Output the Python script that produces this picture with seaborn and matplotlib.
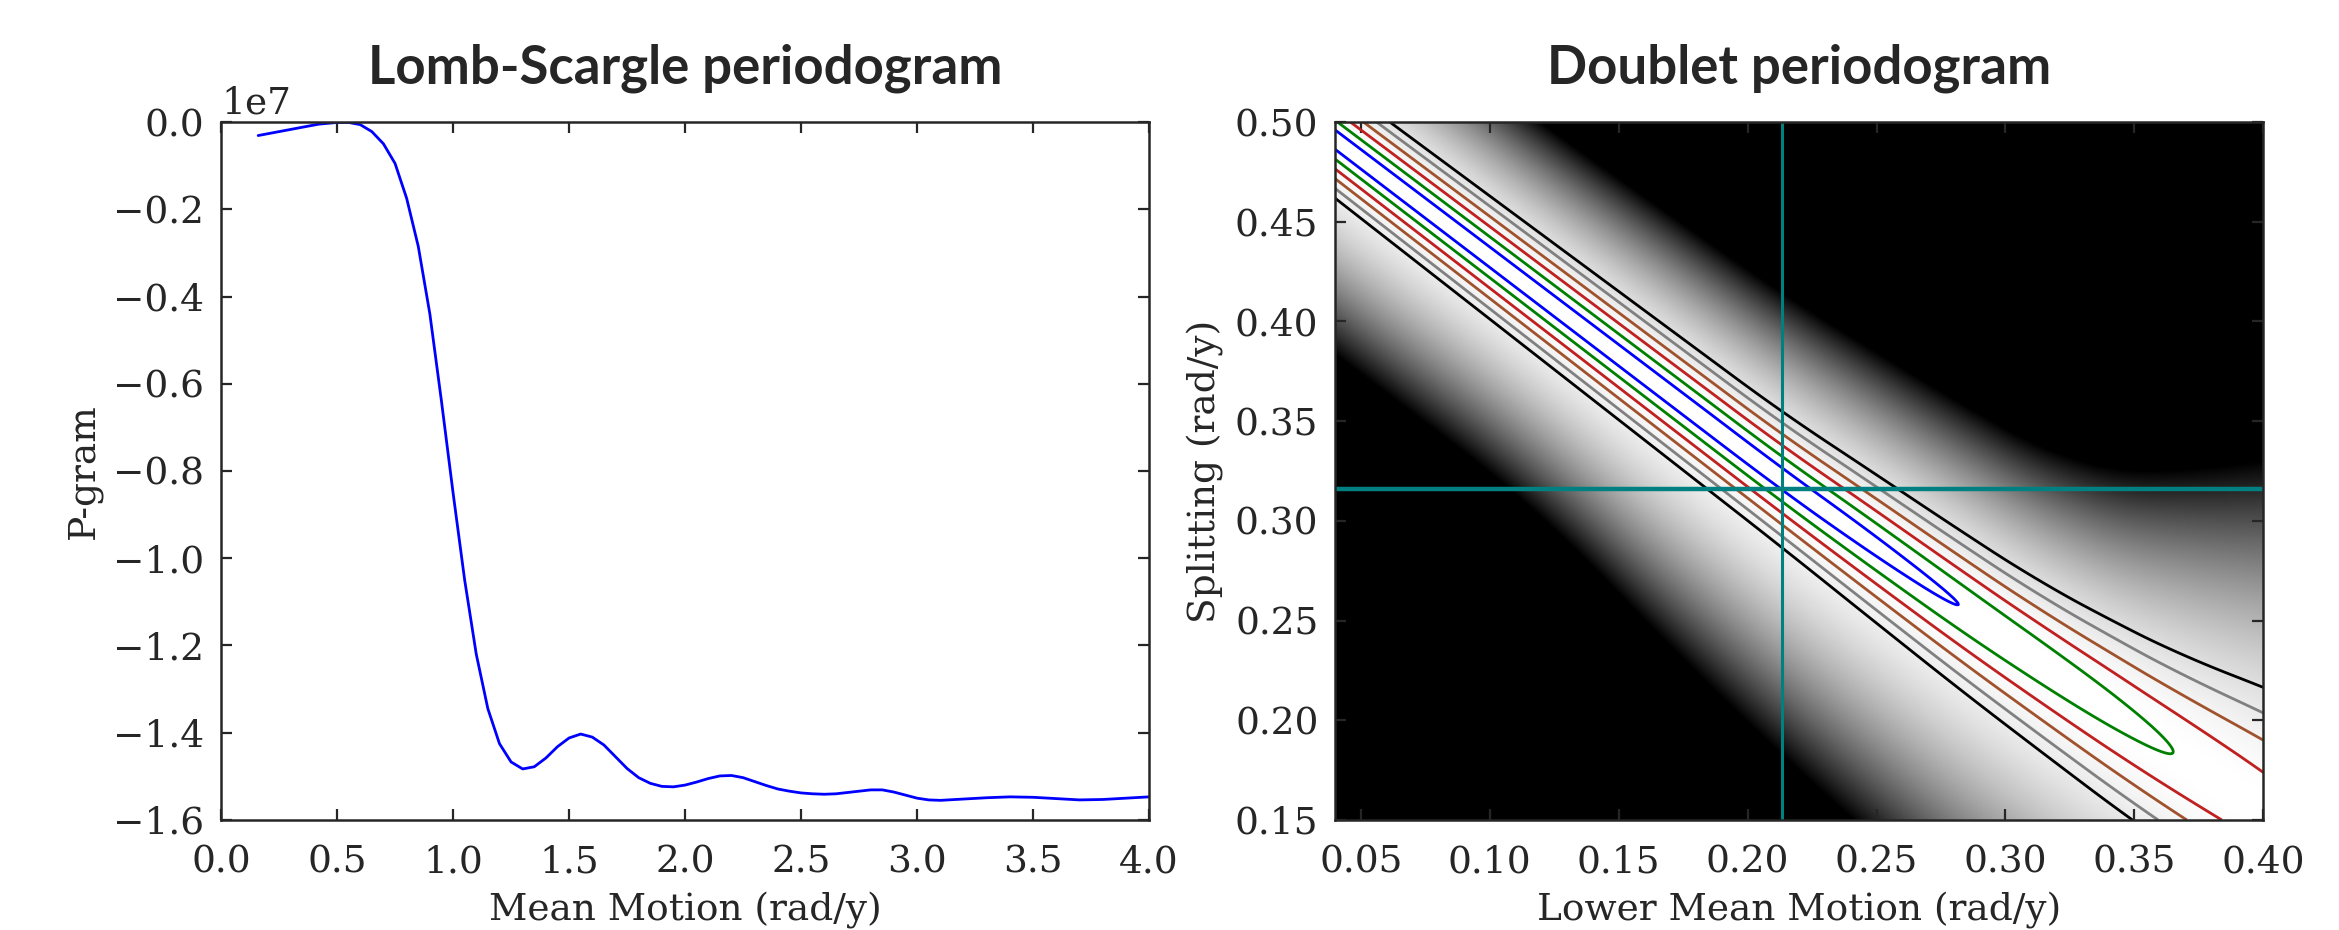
import numpy as np
import pandas as pd
import matplotlib
matplotlib.use("Agg")
import matplotlib.pyplot as plt
from matplotlib.ticker import MultipleLocator
import seaborn as sns

# Lomb-Scargle periodogram (power in units of 1e7)
mean_motion = [0.16, 0.25, 0.34, 0.42, 0.50, 0.55, 0.60, 0.65, 0.70, 0.75,
               0.80, 0.85, 0.90, 0.95, 1.00, 1.05, 1.10, 1.15, 1.20, 1.25,
               1.30, 1.35, 1.40, 1.45, 1.50, 1.55, 1.60, 1.65, 1.70, 1.75,
               1.80, 1.85, 1.90, 1.95, 2.00, 2.05, 2.10, 2.15, 2.20, 2.25,
               2.30, 2.35, 2.40, 2.45, 2.50, 2.55, 2.60, 2.65, 2.70, 2.75,
               2.80, 2.85, 2.90, 2.95, 3.00, 3.05, 3.10, 3.20, 3.30, 3.40,
               3.50, 3.60, 3.70, 3.80, 3.90, 4.00]
pgram_e7 = [-0.031, -0.022, -0.013, -0.005, -0.001, -0.001, -0.006, -0.022, -0.050, -0.095,
            -0.175, -0.285, -0.440, -0.640, -0.850, -1.050, -1.220, -1.345, -1.425, -1.467,
            -1.483, -1.478, -1.458, -1.432, -1.412, -1.403, -1.410, -1.428, -1.455, -1.482,
            -1.503, -1.516, -1.523, -1.524, -1.520, -1.513, -1.505, -1.499, -1.498, -1.503,
            -1.512, -1.521, -1.529, -1.534, -1.538, -1.540, -1.541, -1.540, -1.537, -1.534,
            -1.531, -1.531, -1.536, -1.543, -1.550, -1.554, -1.555, -1.552, -1.549, -1.547,
            -1.548, -1.551, -1.554, -1.553, -1.550, -1.547]

# Doublet periodogram
ridge_x = [0.04, 0.2132, 0.284, 0.366, 0.40]          # ridge of max power
ridge_y = [0.4912, 0.321, 0.256, 0.1834, 0.1533]
drop_x = [0.04, 0.20, 0.24, 0.284, 0.325, 0.366, 0.40]  # chi2 drop along the ridge
drop_chi2 = [0.0, 0.0, 0.2, 1.0, 2.2, 4.0, 5.8]
sig_up_x = [0.04, 0.2132, 0.3122, 0.3406, 0.3691, 0.40]  # 1-sigma half widths
sig_up = [0.00485, 0.0056, 0.0067, 0.0077, 0.0091, 0.0115]
sig_lo_x = [0.04, 0.2132, 0.35, 0.40]
sig_lo = [0.0049, 0.0057, 0.0085, 0.0088]
dark_up_x = [0.04, 0.12, 0.21, 0.27, 0.328, 0.36, 0.40]  # where the image goes black
dark_up = [0.086, 0.087, 0.093, 0.100, 0.109, 0.135, 0.177]
dark_lo_x = [0.04, 0.116, 0.178, 0.24, 0.30, 0.40]
dark_lo = [0.108, 0.108, 0.130, 0.146, 0.160, 0.170]
sigma_levels = [1, 2, 3, 4, 5, 6]
level_colors = ["blue", "green", "#c02020", "sienna", "gray", "black"]
true_lower = 0.2132
true_split = 0.3158

sns.set_style("ticks")
plt.rcParams['font.family'] = ['DejaVu Serif']
plt.rcParams['xtick.direction'] = 'in'
plt.rcParams['ytick.direction'] = 'in'
plt.rcParams['xtick.top'] = True
plt.rcParams['ytick.right'] = True
plt.rcParams['xtick.major.size'] = 4
plt.rcParams['ytick.major.size'] = 4
plt.rcParams['xtick.major.pad'] = 9
plt.rcParams['ytick.major.pad'] = 6
plt.rcParams['axes.linewidth'] = 0.9

fig = plt.figure(figsize=(11.695, 4.65), dpi=200)
ax1 = fig.add_axes([0.0945, 0.1183, 0.3968, 0.7505])
ax2 = fig.add_axes([0.5708, 0.1183, 0.3968, 0.7505])

# left: Lomb-Scargle
ls = pd.DataFrame({"n": mean_motion, "p": np.array(pgram_e7) * 1e7})
sns.lineplot(data=ls, x="n", y="p", ax=ax1, color="blue", lw=1.0)
ax1.set_xlim(0, 4)
ax1.set_ylim(-1.6e7, 0)
ax1.xaxis.set_major_locator(MultipleLocator(0.5))
ax1.yaxis.set_major_locator(MultipleLocator(0.2e7))
ax1.set_xlabel("Mean Motion (rad/y)", fontsize=13.5)
ax1.set_ylabel("P-gram", fontsize=13.5)
ax1.tick_params(labelsize=13.5)
ax1.yaxis.get_offset_text().set_fontsize(13.5)
ax1.set_title("Lomb-Scargle periodogram", fontsize=19, fontfamily="Lato",
              fontweight="bold", pad=14)

# right: doublet periodogram
gx = np.linspace(0.04, 0.40, 500)
gy = np.linspace(0.15, 0.50, 500)


def along_x(xn, vals, half=25):
    # node values -> smooth curve over the grid columns
    v = np.interp(gx, xn, vals)
    v = np.pad(v, half, mode="reflect", reflect_type="odd")
    v = np.convolve(v, np.ones(2 * half + 1) / (2 * half + 1), mode="valid")
    return v[None, :]


X, Y = np.meshgrid(gx, gy)
dy = Y - along_x(ridge_x, ridge_y)
sig = np.where(dy > 0, along_x(sig_up_x, sig_up), along_x(sig_lo_x, sig_lo))
chi2 = np.maximum(along_x(drop_x, drop_chi2), 0) + (dy / sig) ** 2
dark = np.where(dy > 0, along_x(dark_up_x, dark_up, 40), along_x(dark_lo_x, dark_lo, 40))
power = 1 - (dy / dark) ** 2

ax2.imshow(power, extent=[0.04, 0.40, 0.15, 0.50], origin="lower", cmap="gray",
           vmin=0, vmax=1, aspect="auto", interpolation="bilinear")
ax2.contour(gx, gy, chi2, levels=[n ** 2 for n in sigma_levels],
            colors=level_colors, linewidths=1.0)
ax2.axvline(true_lower, color="teal", lw=1.1)
ax2.axhline(true_split, color="teal", lw=1.6)
ax2.set_xlim(0.04, 0.40)
ax2.set_ylim(0.15, 0.50)
ax2.xaxis.set_major_locator(MultipleLocator(0.05))
ax2.yaxis.set_major_locator(MultipleLocator(0.05))
ax2.set_xlabel("Lower Mean Motion (rad/y)", fontsize=13.5)
ax2.set_ylabel("Splitting (rad/y)", fontsize=13.5)
ax2.tick_params(labelsize=13.5)
ax2.set_title("Doublet periodogram", fontsize=19, fontfamily="Lato",
              fontweight="bold", pad=14)

fig.savefig("out.png", dpi=200)
